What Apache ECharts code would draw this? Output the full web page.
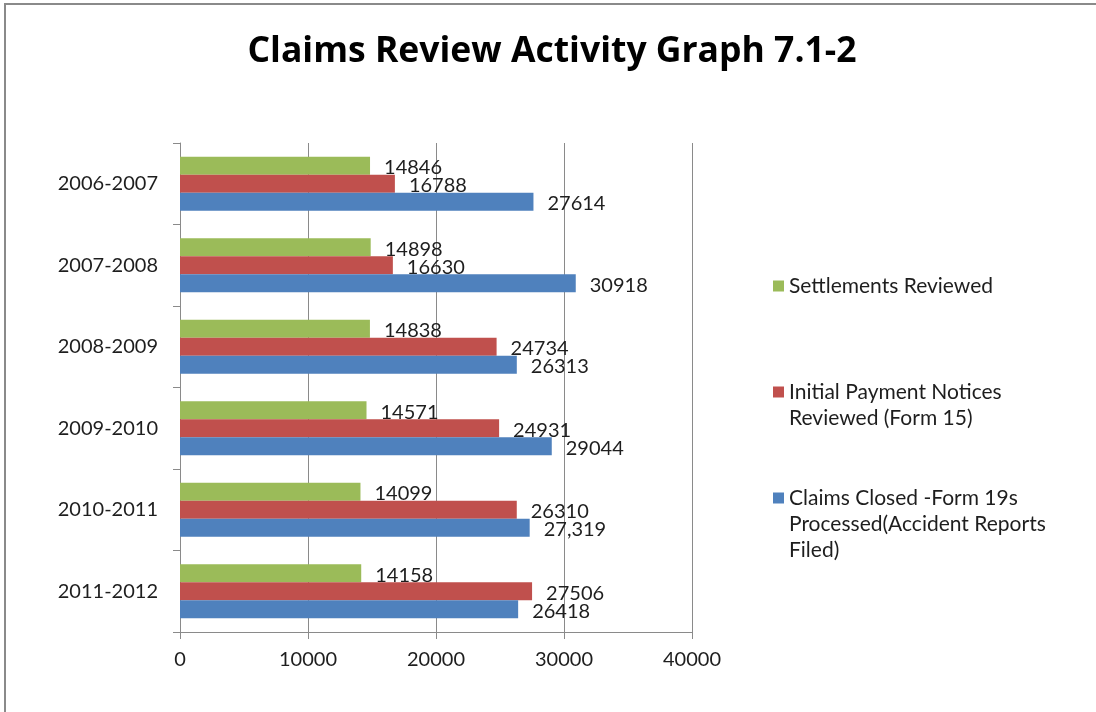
<!DOCTYPE html>
<html>
<head>
<meta charset="utf-8">
<script src="https://cdn.jsdelivr.net/npm/echarts@6/dist/echarts.min.js"></script>
<style>
  html, body { margin: 0; padding: 0; background: #fff; }
  #chart { width: 1096px; height: 712px; }
</style>
</head>
<body>
<div id="chart"></div>
<script>
// data
const years = ['2006-2007', '2007-2008', '2008-2009', '2009-2010', '2010-2011', '2011-2012']
const settlements = [14846, 14898, 14838, 14571, 14099, 14158]
const paymentNotices = [16788, 16630, 24734, 24931, 26310, 27506]
const claimsClosed = [27614, 30918, 26313, 29044, 27319, 26418]
const xTicks = [0, 10000, 20000, 30000, 40000]

const seriesNames = [
  'Settlements Reviewed',
  'Initial Payment Notices Reviewed (Form 15)',
  'Claims Closed -Form 19s Processed(Accident Reports Filed)'
]
// how the legend text wraps in the picture
const legendLines = [
  ['Settlements Reviewed'],
  ['Initial Payment Notices', 'Reviewed (Form 15)'],
  ['Claims Closed -Form 19s', 'Processed(Accident Reports', 'Filed)']
]
const colors = ['#9BBB59', '#C0504D', '#4F81BD']

const FONT = 'Lato'
const TXT = '#1e1e1e'
const GRAY = '#8a8a8a'

const chart = echarts.init(document.getElementById('chart'), null, { renderer: 'canvas' })

// one legend per item; blank lines in front keep the square on the first text line
// (legend text is centred on its icon)
const legendTops = [273, 353, 433]
const legends = seriesNames.map((name, i) => ({
  show: true,
  orient: 'vertical',
  left: 773,
  top: legendTops[i],
  padding: 0,
  icon: 'rect',
  itemWidth: 11,
  itemHeight: 11,
  selectedMode: false,
  data: [name],
  formatter: () => {
    const lines = legendLines[i]
    const pad = new Array(lines.length - 1).fill('')
    return pad.concat(lines).join('\n')
  },
  textStyle: {
    fontFamily: FONT,
    fontSize: 21,
    color: TXT,
    lineHeight: 26
  }
}))

const barLabel = (fmt) => ({
  show: true,
  position: 'right',
  distance: 14,
  fontFamily: FONT,
  fontSize: 20,
  color: TXT,
  offset: [0, 2],
  formatter: fmt
})

const option = {
  animation: false,
  backgroundColor: '#fff',
  title: {
    text: 'Claims Review Activity Graph 7.1-2',
    left: 547,
    top: 29,
    textAlign: 'center',
    textStyle: { fontFamily: 'Open Sans', fontSize: 35.5, fontWeight: 'bold', color: '#000' }
  },
  graphic: [{
    type: 'rect',
    shape: { x: 5, y: 4, width: 1200, height: 800 },
    style: { fill: 'none', stroke: GRAY, lineWidth: 2 },
    silent: true
  }],
  legend: legends,
  grid: { left: 180, right: 404, top: 143, bottom: 80, containLabel: false },
  xAxis: {
    type: 'value',
    min: 0,
    max: 40000,
    interval: 10000,
    axisLine: { show: true, lineStyle: { color: GRAY, width: 1 } },
    axisTick: { show: true, length: 7, lineStyle: { color: GRAY } },
    splitLine: { show: true, lineStyle: { color: GRAY, width: 1 } },
    axisLabel: {
      fontFamily: FONT,
      fontSize: 20,
      color: TXT,
      margin: 18,
      formatter: (v) => xTicks.includes(v) ? String(v) : ''
    }
  },
  yAxis: {
    type: 'category',
    inverse: true,
    data: years,
    axisLine: { show: true, lineStyle: { color: GRAY, width: 1 } },
    axisTick: { show: true, length: 7, alignWithLabel: false, lineStyle: { color: GRAY } },
    axisLabel: { fontFamily: FONT, fontSize: 20, color: TXT, margin: 22 }
  },
  series: [
    {
      name: seriesNames[0],
      type: 'bar',
      data: settlements,
      itemStyle: { color: colors[0] },
      barGap: '0%',
      barCategoryGap: '34%',
      label: barLabel((p) => String(p.value))
    },
    {
      name: seriesNames[1],
      type: 'bar',
      data: paymentNotices,
      itemStyle: { color: colors[1] },
      barGap: '0%',
      barCategoryGap: '34%',
      label: barLabel((p) => String(p.value))
    },
    {
      name: seriesNames[2],
      type: 'bar',
      data: claimsClosed,
      itemStyle: { color: colors[2] },
      barGap: '0%',
      barCategoryGap: '34%',
      // the 2010-2011 value is printed with a thousands comma in the original
      label: barLabel((p) => p.dataIndex === 4 ? p.value.toLocaleString('en-US') : String(p.value))
    }
  ]
}

chart.setOption(option)
</script>
</body>
</html>
